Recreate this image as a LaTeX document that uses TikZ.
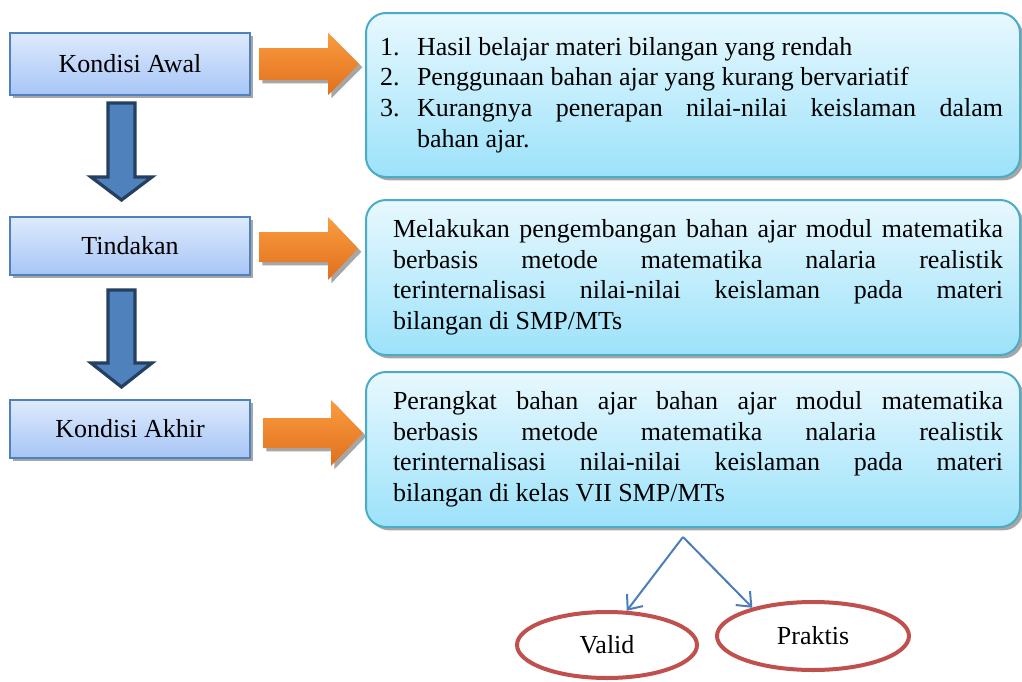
\documentclass[tikz,border=0pt]{standalone}
\usepackage{fontspec}
\setmainfont{Liberation Serif}
\usetikzlibrary{shapes.geometric,shadows,arrows.meta}
\definecolor{lbBorder}{HTML}{4F81BD}
\definecolor{lbTop}{HTML}{DEEAFC}
\definecolor{lbBot}{HTML}{A6C5F6}
\definecolor{rbBorder}{HTML}{4BACC6}
\definecolor{rbTop}{HTML}{E8F8FE}
\definecolor{rbBot}{HTML}{9CE2FA}
\definecolor{orTop}{HTML}{FA9C40}
\definecolor{orBot}{HTML}{E0701C}
\definecolor{shGray}{HTML}{A6A6A6}
\definecolor{dnFill}{HTML}{4F81BD}
\definecolor{dnBorder}{HTML}{243F60}
\definecolor{ovBorder}{HTML}{C0504D}
\definecolor{connBlue}{HTML}{4A7EBB}
\begin{document}
\begin{tikzpicture}[x=0.75pt,y=-0.75pt,
  every node/.style={font=\fontsize{19.5}{22.9}\selectfont},
  execute at begin node={\parindent=0pt\hyphenpenalty=10000\exhyphenpenalty=10000\relax},
  myshadow/.style={drop shadow={shadow xshift=2.5pt,shadow yshift=-2.5pt,fill=shGray,opacity=1}},
  leftbox/.style={draw=lbBorder,line width=1.6pt,top color=lbTop,bottom color=lbBot,
    minimum width=180pt,minimum height=44pt,inner sep=0pt,myshadow},
  rightbox/.style={draw=rbBorder,line width=1.5pt,rounded corners=15pt,top color=rbTop,bottom color=rbBot,
    text width=465pt,inner xsep=12.75pt,inner ysep=0pt,align=justify,myshadow},
  orarrow/.style={top color=orTop,bottom color=orBot,draw=none,myshadow},
  dnarrow/.style={fill=dnFill,draw=dnBorder,line width=2.4pt,line join=miter},
  oval/.style={ellipse,draw=ovBorder,line width=3pt,fill=white,inner sep=0pt},
  conn/.style={draw=connBlue,line width=1.5pt,-{Straight Barb[length=9pt,width=15pt,line width=1.5pt]}}
]
\useasboundingbox (0,0) rectangle (1022,682);

% left column
\node[leftbox,minimum height=46.5pt] (awal) at (130,64) {Kondisi Awal};
\node[leftbox,minimum height=43.5pt] (tindakan) at (130,246) {Tindakan};
\node[leftbox,minimum height=43.5pt] (akhir) at (130,429) {Kondisi Akhir};

% down arrows
\draw[dnarrow] (108,103) -- (135,103) -- (135,177) -- (152,177) -- (121.5,200) -- (91,177) -- (108,177) -- cycle;
\draw[dnarrow] (108,290) -- (135,290) -- (135,363) -- (152,363) -- (121.5,387) -- (91,363) -- (108,363) -- cycle;

% orange arrows
\path[orarrow] (259,48) -- (328,48) -- (328,33) -- (359,64) -- (328,95) -- (328,80) -- (259,80) -- cycle;
\path[orarrow] (259,232) -- (328,232) -- (328,217) -- (358,248.5) -- (328,280) -- (328,262) -- (259,262) -- cycle;
\path[orarrow] (263,418) -- (331,418) -- (331,400) -- (363,433) -- (331,466) -- (331,448) -- (263,448) -- cycle;

% right boxes
\node[rightbox,minimum height=123pt] (kondisi) at (693,95) {%
\leftskip=-2.25pt
\hangindent=27.75pt\hangafter=1\makebox[27.75pt][l]{1.}Hasil belajar materi bilangan yang rendah\par
\hangindent=27.75pt\hangafter=1\makebox[27.75pt][l]{2.}Penggunaan bahan ajar yang kurang bervariatif\par
\hangindent=27.75pt\hangafter=1\makebox[27.75pt][l]{3.}Kurangnya penerapan nilai-nilai keislaman dalam\linebreak bahan ajar.\par};

\node[rightbox,minimum height=116.25pt] (aksi) at (693,277.5) {%
\leftskip=7.5pt
Melakukan pengembangan bahan ajar modul matematika\linebreak
berbasis metode matematika nalaria realistik\linebreak
terinternalisasi nilai-nilai keislaman pada materi\linebreak
bilangan di SMP/MTs\par};

\node[rightbox,minimum height=116.25pt] (hasil) at (693,449.5) {%
\leftskip=7.5pt
Perangkat  bahan ajar bahan ajar modul matematika\linebreak
berbasis metode matematika nalaria realistik\linebreak
terinternalisasi nilai-nilai keislaman pada materi\linebreak
bilangan di kelas VII SMP/MTs\par};

% ovals
\node[oval,minimum width=135pt,minimum height=49.5pt] (valid) at (607,645) {Valid};
\node[oval,minimum width=144pt,minimum height=51pt] (praktis) at (813,636) {Praktis};

\coordinate (split) at (683,537);
\draw[conn] (split) -- (valid.60);
\draw[conn] (split) -- (praktis.155);
\end{tikzpicture}
\end{document}
